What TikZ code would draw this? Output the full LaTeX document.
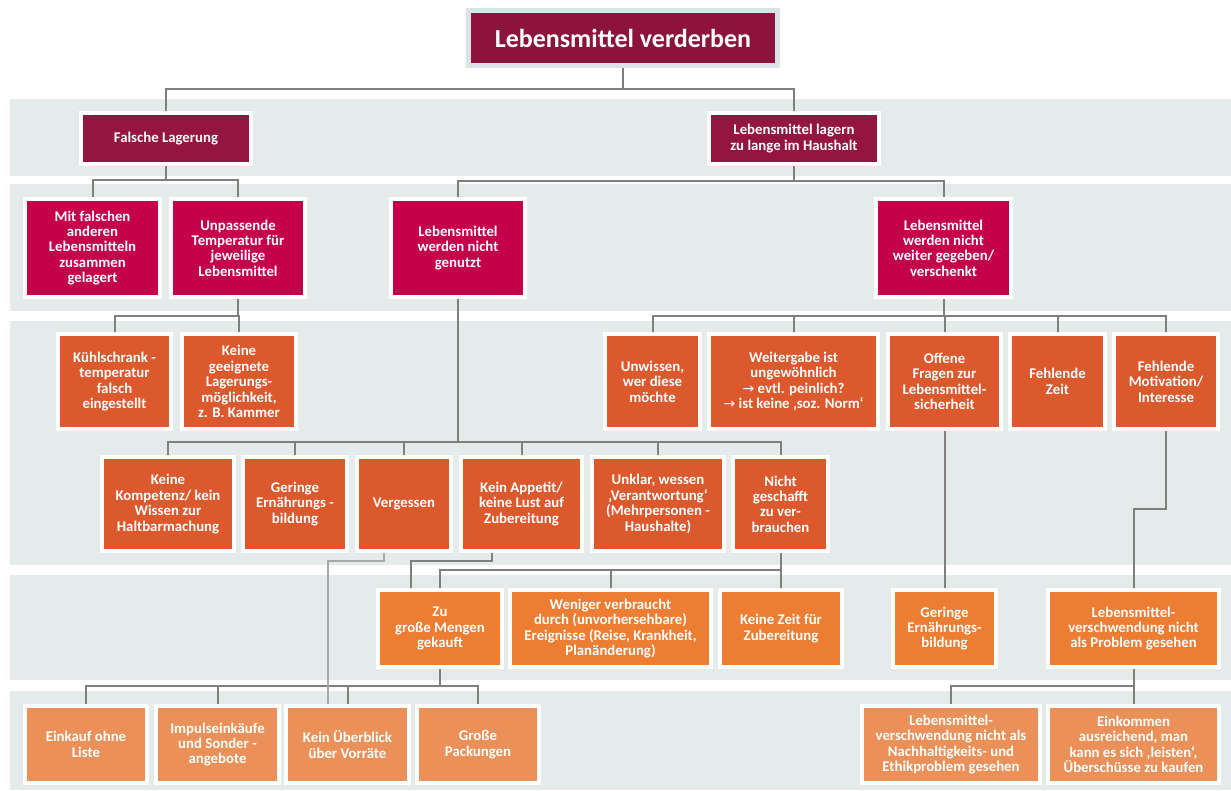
\documentclass[tikz,border=0pt]{standalone}
\usepackage{fontspec}
\setmainfont{Carlito}
\newfontfamily\arrowfont{DejaVu Sans}
\newcommand\arr{{\arrowfont\mdseries\fontsize{14}{15}\selectfont →}}

\definecolor{titlered}{HTML}{8C133B}
\definecolor{lvla}{HTML}{941540}
\definecolor{lvlb}{HTML}{C4004B}
\definecolor{lvlc}{HTML}{DC582D}
\definecolor{lvld}{HTML}{EC7D32}
\definecolor{lvle}{HTML}{EA9058}
\definecolor{bandgray}{HTML}{E5EAEA}
\definecolor{titleframe}{HTML}{DCE3E4}
\definecolor{linegray}{HTML}{7F7F7F}
\definecolor{linelight}{HTML}{A8A8A8}

\pgfdeclarelayer{bg}
\pgfsetlayers{bg,main}

% parent -> bus at height #2 -> each child
\newcommand\fork[3]{%
  \foreach \c in {#3}{%
    \draw[conn] (#1.south) -- (#1.south |- 0,#2) -| (\c.north);}}

\begin{document}
\begin{tikzpicture}[x=1pt,y=-1pt,
  conn/.style={draw=linegray, line width=2pt},
  connlight/.style={draw=linelight, line width=1.6pt},
  band/.style={fill=bandgray},
  wh/.style 2 args={minimum width=#1pt, minimum height=#2pt},
  cell/.style={draw=white, line width=4pt, inner sep=0pt, align=center,
    text=white, font=\bfseries\fontsize{14.8}{15.4}\selectfont},
  ca/.style={cell, fill=lvla},
  cb/.style={cell, fill=lvlb},
  cc/.style={cell, fill=lvlc},
  cd/.style={cell, fill=lvld},
  ce/.style={cell, fill=lvle},
  headbox/.style={draw=titleframe, fill=titlered, line width=5pt, inner sep=0pt,
    text=white, font=\bfseries\fontsize{26}{30}\selectfont}
]
\useasboundingbox (0,0) rectangle (1231,790);

% horizontal bands behind each level
\begin{pgfonlayer}{bg}
  \fill[band] (10,99) rectangle (1231,176);
  \fill[band] (10,184) rectangle (1231,311);
  \fill[band] (10,321) rectangle (1231,565);
  \fill[band] (10,575) rectangle (1231,680);
  \fill[band] (10,691) rectangle (1231,790);
\end{pgfonlayer}

% title
\node[headbox, wh={309}{55}] (title) at (623,38) {Lebensmittel verderben};

% level 1
\node[ca, wh={170}{51}] (FL) at (166,138.5) {Falsche Lagerung};
\node[ca, wh={170}{51}] (LZ) at (794,138.5) {Lebensmittel lagern\\zu lange im Haushalt};

% level 2
\node[cb, wh={135}{98}] (MF) at (92.5,248) {Mit falschen\\anderen\\Lebensmitteln\\zusammen\\gelagert};
\node[cb, wh={134}{98}] (UT) at (238,248) {Unpassende\\Temperatur für\\jeweilige\\Lebensmittel};
\node[cb, wh={134}{98}] (NG) at (458,248) {Lebensmittel\\werden nicht\\genutzt};
\node[cb, wh={135}{98}] (WG) at (943.5,248) {Lebensmittel\\werden nicht\\weiter gegeben/\\verschenkt};

% level 3
\node[cc, wh={113}{95}] (KS) at (114.5,381.5) {Kühlschrank -\\temperatur\\falsch\\eingestellt};
\node[cc, wh={114}{95}] (KG) at (239,381.5) {Keine\\geeignete\\Lagerungs-\\möglichkeit,\\z. B. Kammer};
\node[cc, wh={95}{95}] (UW) at (652.5,381.5) {Unwissen,\\wer diese\\möchte};
\node[cc, wh={169}{95}] (WI) at (793.5,381.5) {Weitergabe ist\\ungewöhnlich\\\arr{} evtl. peinlich?\\\arr{} ist keine ‚soz. Norm‘};
\node[cc, wh={113}{95}] (OF) at (944.5,381.5) {Offene\\Fragen zur\\Lebensmittel-\\sicherheit};
\node[cc, wh={95}{95}] (FZ) at (1057.5,381.5) {Fehlende\\Zeit};
\node[cc, wh={104}{95}] (FM) at (1166,381.5) {Fehlende\\Motivation/\\Interesse};

% level 4
\node[cc, wh={132}{94}] (KK) at (168,504) {Keine\\Kompetenz/ kein\\Wissen zur\\Haltbarmachung};
\node[cc, wh={104}{94}] (GE) at (295,504) {Geringe\\Ernährungs -\\bildung};
\node[cc, wh={94}{94}] (VG) at (404,504) {Vergessen};
\node[cc, wh={121}{94}] (KA) at (521.5,504) {Kein Appetit/\\keine Lust auf\\Zubereitung};
\node[cc, wh={132}{94}] (UK) at (658,504) {Unklar, wessen\\‚Verantwortung‘\\(Mehrpersonen -\\Haushalte)};
\node[cc, wh={95}{94}] (NS) at (780.5,504) {Nicht\\geschafft\\zu ver-\\brauchen};

% level 5
\node[cd, wh={124}{77}] (ZG) at (440,628.5) {Zu\\große Mengen\\gekauft};
\node[cd, wh={201}{77}] (WV) at (610.5,628.5) {Weniger verbraucht\\durch (unvorhersehbare)\\Ereignisse (Reise, Krankheit,\\Planänderung)};
\node[cd, wh={122}{77}] (KZ) at (781,628.5) {Keine Zeit für\\Zubereitung};
\node[cd, wh={103}{77}] (GR) at (944.5,628.5) {Geringe\\Ernährungs-\\bildung};
\node[cd, wh={171}{77}] (LP) at (1133.5,628.5) {Lebensmittel-\\verschwendung nicht\\als Problem gesehen};

% level 6
\node[ce, wh={122}{77}] (EO) at (86,744.5) {Einkauf ohne\\Liste};
\node[ce, wh={123}{77}] (IS) at (217.5,744.5) {Impulseinkäufe\\und Sonder -\\angebote};
\node[ce, wh={123}{77}] (KU) at (347.5,744.5) {Kein Überblick\\über Vorräte};
\node[ce, wh={122}{77}] (GP) at (478,744.5) {Große\\Packungen};
\node[ce, wh={178}{77}] (LN) at (951,744.5) {Lebensmittel-\\verschwendung nicht als\\Nachhaltigkeits- und\\Ethikproblem gesehen};
\node[ce, wh={171}{77}] (EA) at (1133.5,744.5) {Einkommen\\ausreichend, man\\kann es sich ‚leisten‘,\\Überschüsse zu kaufen};

% connectors
\begin{pgfonlayer}{bg}
  \fork{title}{89}{FL,LZ}
  \fork{FL}{180}{MF,UT}
  \fork{LZ}{181}{NG,WG}
  \fork{UT}{316}{KS,KG}
  \fork{WG}{316}{UW,WI,OF,FZ,FM}
  \fork{NG}{442}{KK,GE,VG,KA,UK,NS}
  \fork{NS}{570}{ZG,WV,KZ}
  \fork{ZG}{686}{EO,IS,KU,GP}
  \fork{LP}{686}{LN,EA}
  \draw[conn] (OF.south) -- (GR.north);
  \draw[conn] (FM.south) -- (FM.south |- 0,509) -| (LP.north);
  \draw[conn] (KA.south -| 492,0) -- (492,561) -- (411,561) -- (ZG.north -| 411,0);
  \draw[connlight] (VG.south -| 384,0) -- (384,561) -- (328,561) -- (KU.north -| 328,0);
\end{pgfonlayer}
\end{tikzpicture}
\end{document}
